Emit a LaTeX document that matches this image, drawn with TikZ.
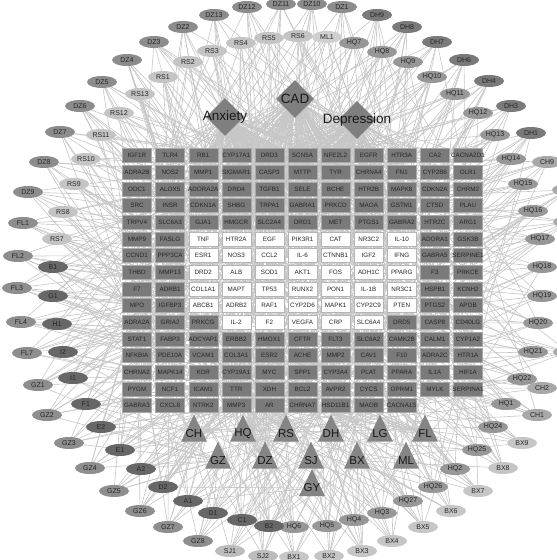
\documentclass[tikz,border=0pt]{standalone}
\usepackage{fontspec}
\setmainfont{Liberation Sans}
\usepackage{xcolor}
\usetikzlibrary{shapes.geometric,backgrounds}

\definecolor{genegray}{HTML}{7A7A7A}
\definecolor{generim}{HTML}{A9A9A9}
\definecolor{hitrim}{HTML}{B5B5B5}
\definecolor{disgray}{HTML}{7F7F7F}
\definecolor{herbgray}{HTML}{858585}
\definecolor{dzgray}{HTML}{8C8C8C}
\definecolor{rsgray}{HTML}{C4C4C4}
\definecolor{mlgray}{HTML}{CFCFCF}
\definecolor{dhgray}{HTML}{7A7A7A}
\definecolor{hqgray}{HTML}{979797}
\definecolor{chgray}{HTML}{A8A8A8}
\definecolor{flgray}{HTML}{8E8E8E}
\definecolor{sharedgray}{HTML}{676767}
\definecolor{sjgray}{HTML}{BCBCBC}
\definecolor{bxgray}{HTML}{C6C6C6}
\definecolor{linkgray}{HTML}{C6C6C6}

\newcommand{\glabel}[1]{\makebox[0pt]{#1}}
\newcommand{\cpdlist}{DZ1,DZ10,DZ11,DZ12,DZ13,DZ2,DZ3,DZ4,DZ5,DZ6,DZ7,DZ8,DZ9,%
RS1,RS2,RS3,RS4,RS5,RS6,RS7,RS8,RS9,RS10,RS11,RS12,RS13,ML1,%
DH9,DH8,DH7,DH6,DH4,DH3,DH1,%
HQ7,HQ8,HQ9,HQ10,HQ11,HQ12,HQ13,HQ14,HQ15,HQ16,HQ17,HQ18,HQ19,HQ20,HQ21,HQ22,%
HQ1,HQ24,HQ25,HQ2,HQ26,HQ27,HQ3,HQ4,HQ5,HQ6,%
CH9,CH8,CH7,CH3,CH2,CH1,FL1,FL2,FL3,FL4,FL7,%
GZ1,GZ2,GZ3,GZ4,GZ5,GZ6,GZ7,GZ8,%
B1,G1,H1,I2,I1,F1,E2,E1,A2,D2,A1,D1,C1,B2,%
SJ1,SJ2,BX1,BX2,BX3,BX4,BX5,BX6,BX7,BX8,BX9}

\begin{document}
\begin{tikzpicture}[
  x=1pt, y=-1pt,
  every node/.style={font=\fontsize{6.3}{7}\selectfont, text=black!85},
  gene/.style={
    rectangle, draw=generim, fill=genegray,
    minimum width=29pt, minimum height=14pt, inner sep=0pt,
  },
  hit/.style={gene, draw=hitrim, fill=white},
  cpd/.style={
    ellipse, minimum width=30pt, minimum height=12pt, inner sep=0pt,
    font=\fontsize{7}{8}\selectfont,
  },
  dz/.style={cpd, fill=dzgray},
  rs/.style={cpd, fill=rsgray},
  ml/.style={cpd, fill=mlgray},
  dh/.style={cpd, fill=dhgray},
  hq/.style={cpd, fill=hqgray},
  ch/.style={cpd, fill=chgray},
  fl/.style={cpd, fill=flgray},
  gz/.style={cpd, fill=flgray},
  shared/.style={cpd, fill=sharedgray},
  sj/.style={cpd, fill=sjgray},
  bx/.style={cpd, fill=bxgray},
  herb/.style={
    isosceles triangle, isosceles triangle stretches, shape border rotate=90,
    minimum width=26pt, minimum height=27pt, inner sep=0pt, fill=herbgray,
    label={[font=\fontsize{11.5}{12}\selectfont, text=black!90]center:#1},
  },
  disease/.style={
    diamond, minimum width=38pt, minimum height=38pt, inner sep=0pt, fill=disgray,
    label={[font=\fontsize{13.5}{14}\selectfont, text=black!90]center:#1},
  },
  link/.style={draw=linkgray, line width=0.6pt},
]
\useasboundingbox (0,0) rectangle (557,560);

% Diseases
\node[disease=Anxiety] (anx) at (225,117) {};
\node[disease=CAD] (cad) at (295,99) {};
\node[disease=Depression] (dep) at (357,120) {};

% Herbs
\node[herb=CH] (CH) at (194,433.5) {};
\node[herb=HQ] (HQ) at (243,433.5) {};
\node[herb=RS] (RS) at (286,433.5) {};
\node[herb=DH] (DH) at (331,433.5) {};
\node[herb=LG] (LG) at (380,433.5) {};
\node[herb=FL] (FL) at (425,433.5) {};
\node[herb=GZ] (GZ) at (218,460.5) {};
\node[herb=DZ] (DZ) at (265,460.5) {};
\node[herb=SJ] (SJ) at (311,460.5) {};
\node[herb=BX] (BX) at (357,460.5) {};
\node[herb=ML] (ML) at (406,460.5) {};
\node[herb=GY] (GY) at (312,488) {};

% Targets
\foreach \row [count=\r] in {
  {IGF1R,TLR4,RB1,CYP17A1,DRD3,SCN5A,NFE2L2,EGFR,HTR3A,CA2,CACNA2D1},
  {ADRA2B,NOS2,MMP1,SIGMAR1,CASP3,MTTP,TYR,CHRNA4,FN1,CYP2B6,OLR1},
  {ODC1,ALOX5,ADORA2A,DRD4,TGFB1,SELE,BCHE,HTR2B,MAPK8,CDKN2A,CHRM2},
  {SRC,INSR,CDKN1A,SHBG,TRPA1,GABRA1,PRKCD,MAOA,GSTM1,CTSD,PLAU},
  {TRPV4,SLC6A3,GJA1,HMGCR,SLC2A4,DRD1,MET,PTGS1,GABRA2,HTR2C,ARG1},
  {MMP9,FASLG,TNF,HTR2A,EGF,PIK3R1,CAT,NR3C2,IL-10,ADORA1,GSK3B},
  {CCND1,PPP3CA,ESR1,NOS3,CCL2,IL-6,CTNNB1,IGF2,IFNG,GABRA5,SERPINE1},
  {THBD,MMP13,DRD2,ALB,SOD1,AKT1,FOS,ADH1C,PPARG,F3,PRKCE},
  {F7,ADRB1,COL1A1,MAPT,TP53,RUNX2,PON1,IL-1B,NR3C1,HSPB1,KCNH2},
  {MPO,IGFBP3,ABCB1,ADRB2,RAF1,CYP2D6,MAPK1,CYP2C9,PTEN,PTGS2,APOB},
  {ADRA2A,GRIA2,PRKCG,IL-2,F2,VEGFA,CRP,SLC6A4,DRD5,CASP8,CD40LG},
  {STAT1,FABP3,ADCYAP1,ERBB2,HMOX1,CFTR,FLT3,SLC6A2,CAMK2B,CALM1,CYP1A2},
  {NFKBIA,PDE10A,VCAM1,COL3A1,ESR2,ACHE,MMP2,CAV1,F10,ADRA2C,HTR1A},
  {CHRNA2,MAPK14,KDR,CYP19A1,MYC,SPP1,CYP3A4,PLAT,PPARA,IL1A,HIF1A},
  {PYGM,NCF1,ICAM1,TTR,XDH,BCL2,AVPR2,CYCS,OPRM1,MYLK,SERPINA1},
  {GABRA3,CXCL8,NTRK2,MMP3,AR,CHRNA7,HSD11B1,MAOB,CACNA1S}} {
  \foreach \g [count=\c] in \row {
    \pgfmathtruncatemacro\w{(\r>5)*(\r<11)*(\c>2)*(\c<10)+(\r==11)*(\c>3)*(\c<9)}
    \ifnum\w=1 \def\gs{hit}\else\def\gs{gene}\fi
    \node[\gs] (g\r-\c) at ({137+(\c-1)*33.1},{155.5+(\r-1)*16.67}) {\glabel{\g}};
  }
}

% Compounds
\foreach \n/\x/\y in {DZ1/342/7,DZ10/312/4,DZ11/281/4,DZ12/247/7,DZ13/214/15,
  DZ2/183/27,DZ3/154/42,DZ4/127/60,DZ5/102/82,DZ6/80/106,DZ7/60/132,DZ8/44/162,DZ9/28/192}
  \node[dz] (\n) at (\x,\y) {\n};
\foreach \n/\x/\y in {RS1/163/77,RS2/188/62,RS3/212/51,RS4/241/43,RS5/269/38,RS6/298/36,
  RS13/140/94,RS12/119/113,RS11/101/135,RS10/86/159,RS9/74/184,RS8/63/212,RS7/57/239}
  \node[rs] (\n) at (\x,\y) {\n};
\node[ml] (ML1) at (327,37) {ML1};
\foreach \n/\x/\y in {DH9/377/15,DH8/407/27,DH7/437/42,DH6/464/60,DH4/489/81,DH3/511/106,DH1/531/133}
  \node[dh] (\n) at (\x,\y) {\n};
\foreach \n/\x/\y in {HQ7/354/43,HQ8/382/52,HQ9/408/62,HQ10/432/77,HQ11/455/94,HQ12/478/113,
  HQ13/495/135,HQ14/511/159,HQ15/523/184,HQ16/533/211,HQ17/540/239,HQ18/542/267,
  HQ19/542/296,HQ20/538/323,HQ21/533/352,HQ22/522/379,HQ1/506/404,HQ24/493/427,
  HQ25/477/450,HQ2/455/469,HQ26/433/487,HQ27/408/501,HQ3/382/513,HQ4/354/520,
  HQ5/327/526,HQ6/294/527}
  \node[hq] (\n) at (\x,\y) {\n};
\foreach \n/\x/\y in {CH9/547/162,CH2/542/388,CH1/537/415}
  \node[ch] (\n) at (\x,\y) {\n};
% right edge: only slivers of these show
\foreach \n/\x/\y in {CH8/567/190,CH7/568/222,CH3/568/352}
  \node[ch] (\n) at (\x,\y) {};
\foreach \n/\x/\y in {FL1/23/223,FL2/18/256,FL3/17/288,FL4/21/322,FL7/27/353}
  \node[fl] (\n) at (\x,\y) {\n};
\foreach \n/\x/\y in {GZ1/38/385,GZ2/47/415,GZ3/69/443,GZ4/90/468,GZ5/114/491,
  GZ6/140/511,GZ7/168/527,GZ8/198/541}
  \node[gz] (\n) at (\x,\y) {\n};
\foreach \n/\x/\y in {B1/53/267,G1/53/296,H1/57/324,I2/63/352,I1/73/378,F1/86/404,
  E2/101/427,E1/120/450,A2/141/469,D2/163/487,A1/188/501,D1/213/513,C1/242/520,B2/269/526}
  \node[shared] (\n) at (\x,\y) {\n};
\foreach \n/\x/\y in {SJ1/230/551,SJ2/263/556}
  \node[sj] (\n) at (\x,\y) {\n};
\foreach \n/\x/\y in {BX1/294/557,BX2/329/556,BX3/362/551,BX4/392/541,BX5/423/527,
  BX6/451/511,BX7/478/491,BX8/503/468,BX9/522/443}
  \node[bx] (\n) at (\x,\y) {\n};

\begin{scope}[on background layer]
  % compound -- herb
  \foreach \h in {DZ1,DZ10,DZ11,DZ12,DZ13,DZ2,DZ3,DZ4,DZ5,DZ6,DZ7,DZ8,DZ9}
    \draw[link] (\h) -- (DZ);
  \foreach \h in {RS1,RS2,RS3,RS4,RS5,RS6,RS7,RS8,RS9,RS10,RS11,RS12,RS13}
    \draw[link] (\h) -- (RS);
  \foreach \h in {DH9,DH8,DH7,DH6,DH4,DH3,DH1}
    \draw[link] (\h) -- (DH);
  \foreach \h in {HQ7,HQ8,HQ9,HQ10,HQ11,HQ12,HQ13,HQ14,HQ15,HQ16,HQ17,HQ18,HQ19,
    HQ20,HQ21,HQ22,HQ1,HQ24,HQ25,HQ2,HQ26,HQ27,HQ3,HQ4,HQ5,HQ6}
    \draw[link] (\h) -- (HQ);
  \foreach \h in {CH9,CH8,CH7,CH3,CH2,CH1} \draw[link] (\h) -- (CH);
  \foreach \h in {FL1,FL2,FL3,FL4,FL7} \draw[link] (\h) -- (FL);
  \foreach \h in {GZ1,GZ2,GZ3,GZ4,GZ5,GZ6,GZ7,GZ8} \draw[link] (\h) -- (GZ);
  \foreach \h in {SJ1,SJ2} \draw[link] (\h) -- (SJ);
  \foreach \h in {BX1,BX2,BX3,BX4,BX5,BX6,BX7,BX8,BX9} \draw[link] (\h) -- (BX);
  \draw[link] (ML1) -- (ML);
  \foreach \a/\b in {A1/GZ,A1/LG,A1/GY,A2/GZ,A2/CH,B1/FL,B1/LG,B1/CH,B2/GY,B2/SJ,B2/DZ,
    C1/GY,C1/SJ,D1/GZ,D1/DZ,D2/CH,D2/GY,E1/CH,E1/HQ,E2/GZ,E2/LG,F1/FL,F1/CH,
    G1/FL,G1/LG,H1/FL,H1/ML,I1/CH,I1/GZ,I2/FL,I2/GY}
    \draw[link] (\a) -- (\b);
  % compound -- target
  \foreach \e [count=\i] in \cpdlist {
    \foreach \j in {1,...,6} {
      \pgfmathtruncatemacro\k{mod(\i*29+\j*41+\j*\j*7,174)}
      \pgfmathtruncatemacro\gr{div(\k,11)+1}
      \pgfmathtruncatemacro\gc{mod(\k,11)+1}
      \draw[link] (\e) -- (g\gr-\gc);
    }
  }
  % target -- disease
  \foreach \k in {0,...,173} {
    \pgfmathtruncatemacro\gr{div(\k,11)+1}
    \pgfmathtruncatemacro\gc{mod(\k,11)+1}
    \pgfmathtruncatemacro\da{mod(\k,3)}
    \pgfmathtruncatemacro\db{mod(\k*5+1,3)}
    \edef\dn{\ifcase\da anx\or cad\or dep\fi}
    \edef\dm{\ifcase\db anx\or cad\or dep\fi}
    \draw[link] (g\gr-\gc) -- (\dn);
    \draw[link] (g\gr-\gc) -- (\dm);
  }
\end{scope}

\end{tikzpicture}
\end{document}
